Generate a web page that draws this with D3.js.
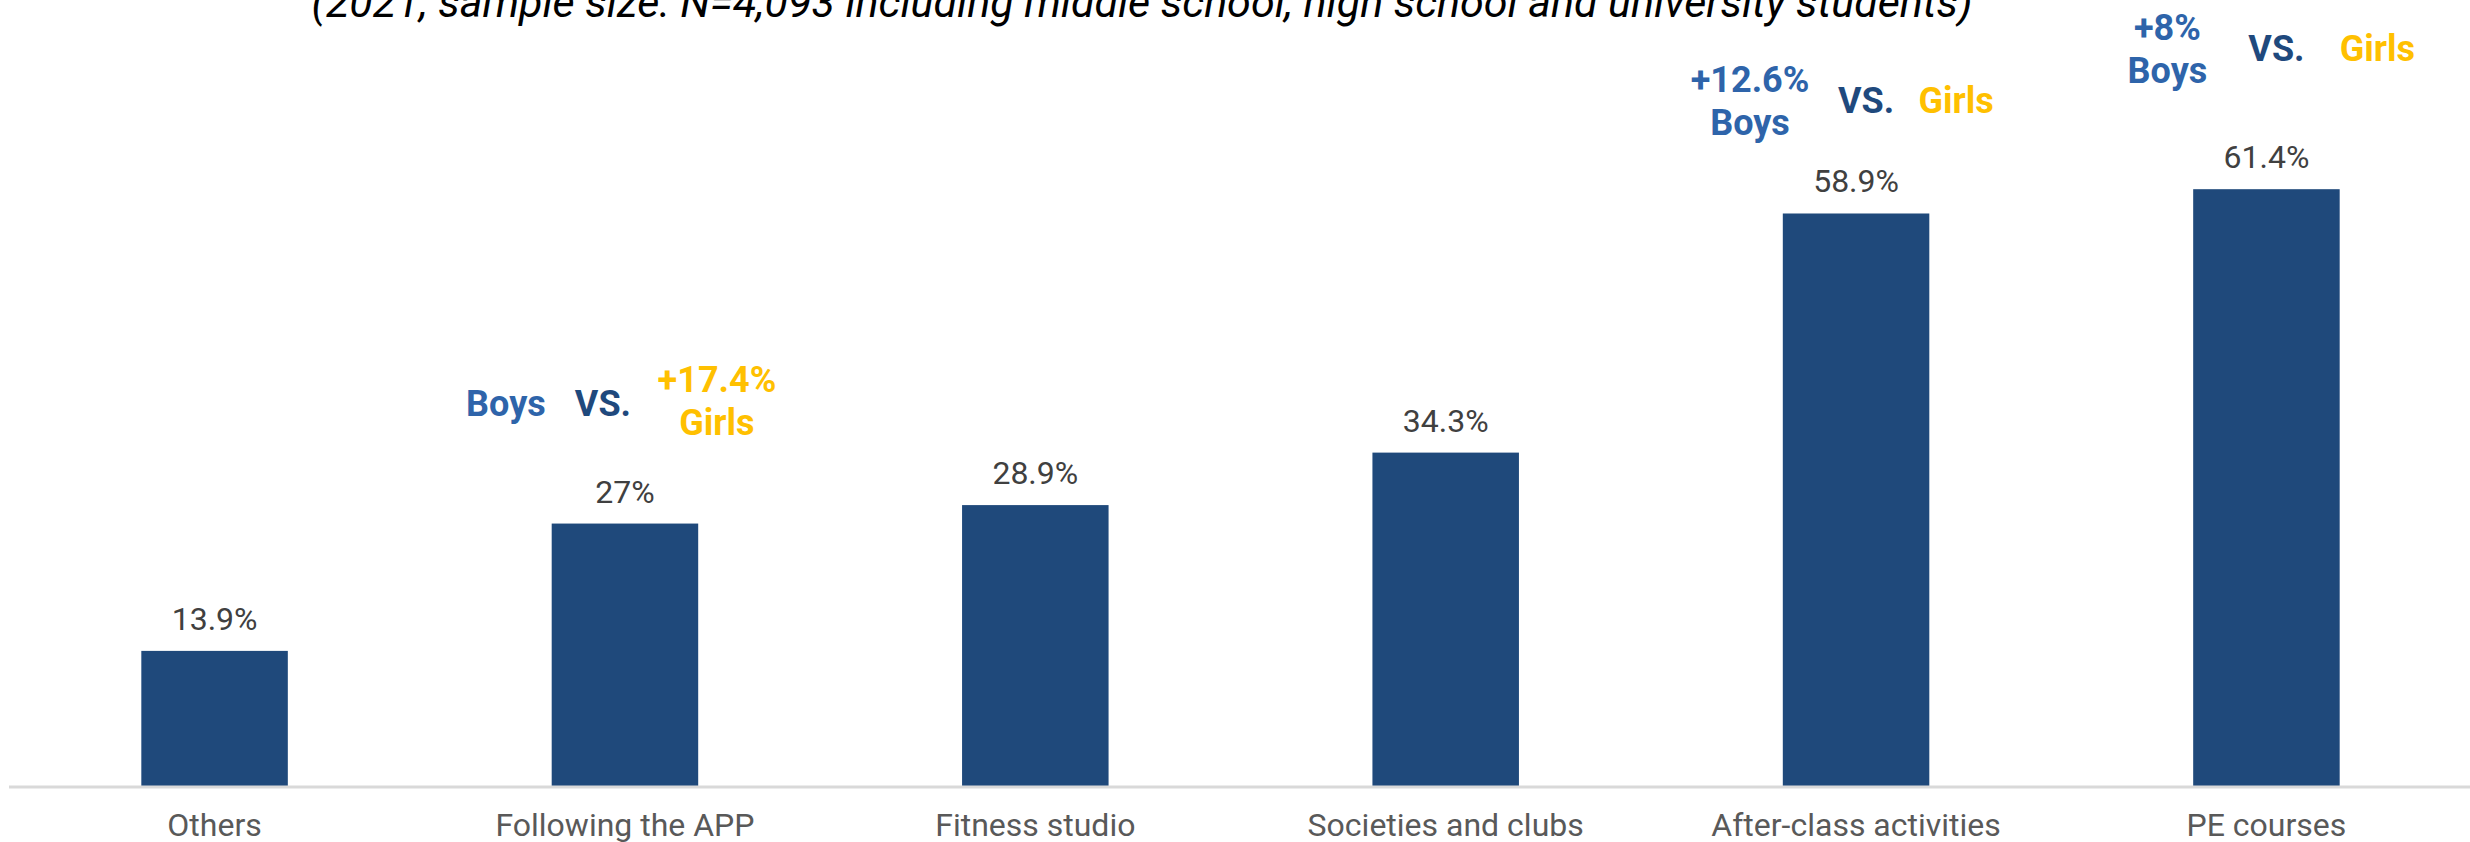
<!DOCTYPE html>
<html>
<head>
<meta charset="utf-8">
<script src="https://cdn.jsdelivr.net/npm/d3@7"></script>
<style>
  html, body { margin: 0; padding: 0; background: #fff; }
  svg { display: block; font-family: Roboto, "Noto Sans", sans-serif; }
</style>
</head>
<body>
<svg id="chart"></svg>
<script>
// dados do grafico
const categories = ['Others', 'Following the APP', 'Fitness studio', 'Societies and clubs', 'After-class activities', 'PE courses'];
const values = [13.9, 27, 28.9, 34.3, 58.9, 61.4];
const valueLabels = ['13.9%', '27%', '28.9%', '34.3%', '58.9%', '61.4%'];
const subtitle = '(2021, sample size: N=4,093 including middle school, high school and university students)';

// anotacoes boys vs girls
const noteCategories = ['Following the APP', 'After-class activities', 'PE courses'];
const noteBoys = ['', '+12.6%', '+8%'];
const noteGirls = ['+17.4%', '', ''];

const width = 2470;
const height = 842;
const MARGINS = { top: 8, right: 0, bottom: 56, left: 10 };
const baseY = height - MARGINS.bottom;   // linha do eixo

const svg = d3.select('#chart')
    .attr('width', width)
    .attr('height', height);

const x = d3 // escala X
    .scaleBand()
    .domain(categories)
    .range([MARGINS.left, width + 1])
    .paddingInner(0.643)
    .paddingOuter(0.32);

const y = d3 // escala Y
    .scaleLinear()
    .domain([0, 80])
    .range([baseY, baseY - 9.72 * 80]);

// subtitulo (cortado no topo)
svg.append('text')
    .attr('x', 1142)
    .attr('y', 17)
    .attr('text-anchor', 'middle')
    .attr('font-size', 43)
    .attr('font-style', 'italic')
    .attr('fill', '#000')
    .text(subtitle);

// barras
svg.append('g')
    .attr('class', 'bars')
    .selectAll('rect')
    .data(values)
    .enter()
    .append('rect')
    .attr('x', (d, i) => x(categories[i]))
    .attr('width', x.bandwidth())
    .attr('y', d => y(d))
    .attr('height', d => baseY - y(d))
    .attr('fill', '#1F497B');

// eixo horizontal
const xAxis = d3.axisBottom(x).tickSize(0).tickPadding(27);
const gx = svg.append('g')
    .attr('transform', `translate(0,${baseY})`)
    .call(xAxis);
gx.select('.domain').remove();
gx.append('line')
    .attr('x1', MARGINS.left - 1).attr('x2', width)
    .attr('y1', 1).attr('y2', 1)
    .attr('stroke', '#d9d9d9')
    .attr('stroke-width', 3);
gx.selectAll('.tick text')
    .attr('font-size', 32)
    .attr('fill', '#595959')
    .attr('font-family', 'Roboto, sans-serif');

// rotulos de valor
svg.append('g')
    .selectAll('text')
    .data(values)
    .enter()
    .append('text')
    .attr('x', (d, i) => x(categories[i]) + x.bandwidth() / 2)
    .attr('y', d => y(d) - 21)
    .attr('text-anchor', 'middle')
    .attr('font-size', 32)
    .attr('fill', '#404040')
    .text((d, i) => valueLabels[i]);

// posicoes das anotacoes (deslocamentos em relacao ao centro/topo da barra)
const noteLayout = [
    { boys: [-119, -120], vs: [-22, -120], girls: [92, -120] },
    { boys: [-106, -113], vs: [10, -113], girls: [100, -113] },
    { boys: [-99, -141], vs: [10, -141], girls: [111, -141] }
];

const notes = svg.append('g').attr('font-weight', 700).attr('font-size', 36);
noteCategories.forEach((cat, i) => {
    const cx = x(cat) + x.bandwidth() / 2;
    const top = y(values[categories.indexOf(cat)]);
    const L = noteLayout[i];

    const put = (dx, dy, txt, color) => notes.append('text')
        .attr('x', cx + dx)
        .attr('y', top + dy)
        .attr('dy', '0.35em')
        .attr('text-anchor', 'middle')
        .attr('fill', color)
        .text(txt);

    // boys
    if (noteBoys[i]) {
        put(L.boys[0], L.boys[1] - 21, noteBoys[i], '#2E64AA');
        put(L.boys[0], L.boys[1] + 22, 'Boys', '#2E64AA');
    } else {
        put(L.boys[0], L.boys[1], 'Boys', '#2E64AA');
    }
    put(L.vs[0], L.vs[1], 'VS.', '#1F497D');
    // girls
    if (noteGirls[i]) {
        put(L.girls[0], L.girls[1] - 24, noteGirls[i], '#FFC000');
        put(L.girls[0], L.girls[1] + 19, 'Girls', '#FFC000');
    } else {
        put(L.girls[0], L.girls[1], 'Girls', '#FFC000');
    }
});
</script>
</body>
</html>
